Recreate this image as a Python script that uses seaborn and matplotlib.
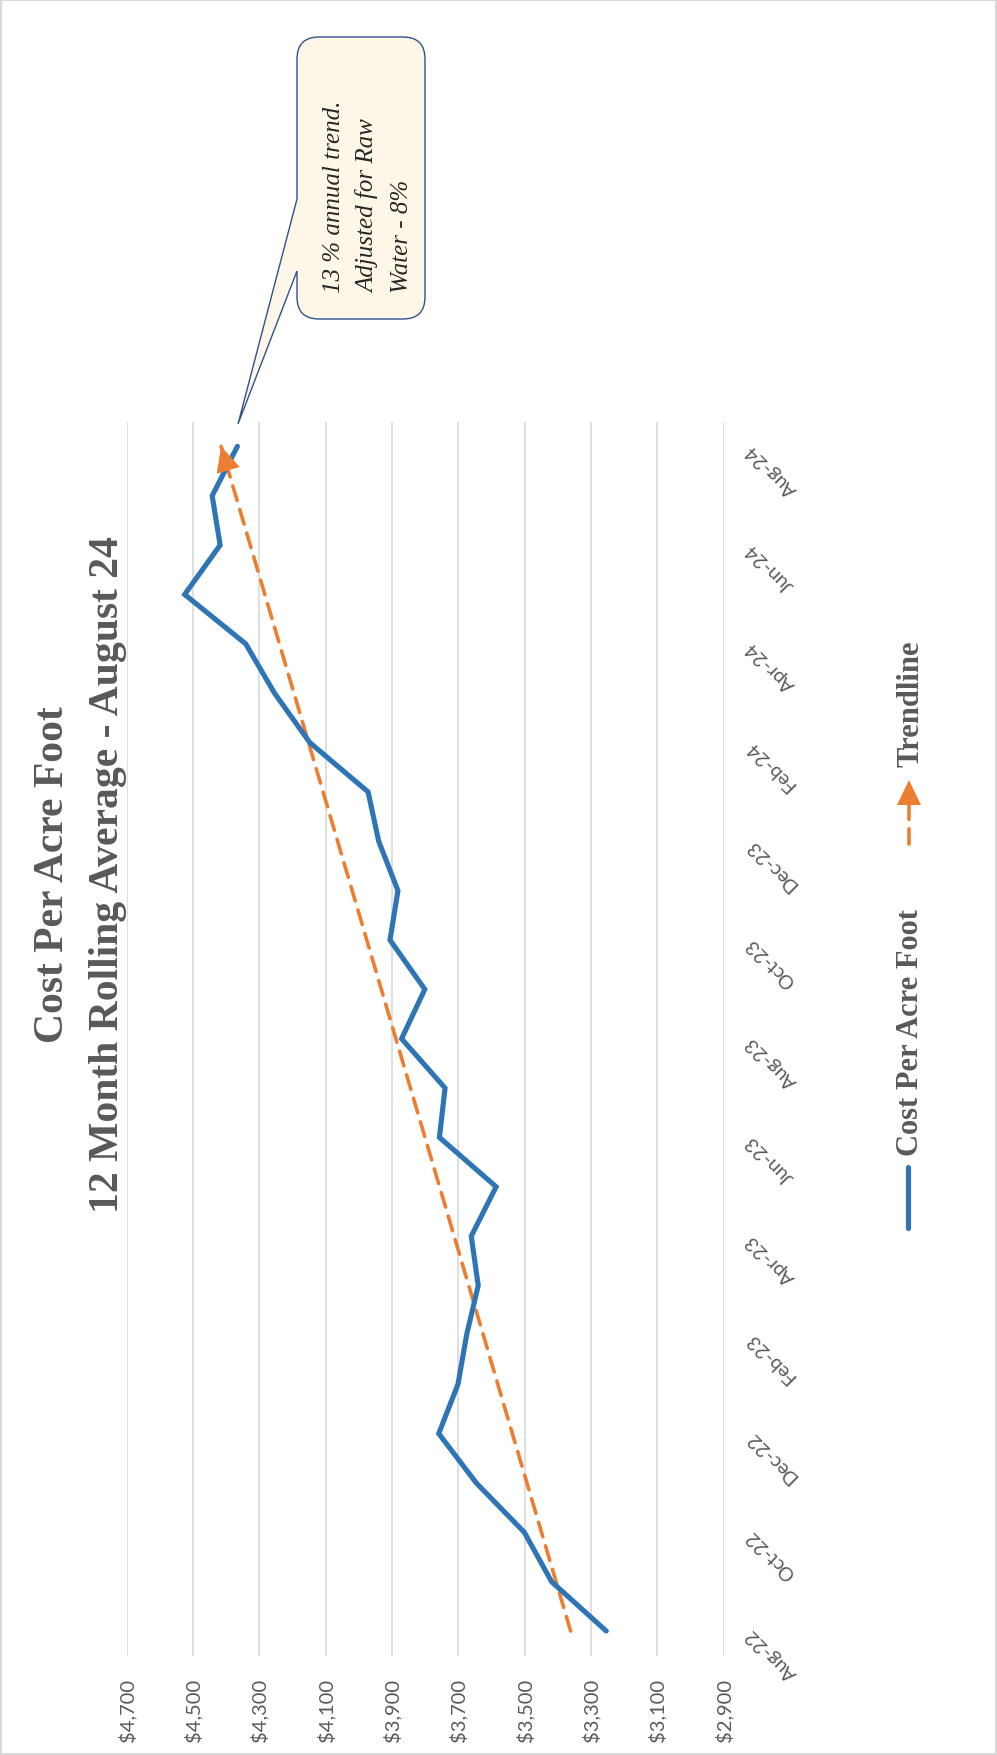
import numpy as np
import pandas as pd
import matplotlib
matplotlib.use("Agg")
import matplotlib.pyplot as plt
import seaborn as sns
from matplotlib.path import Path
from matplotlib.patches import PathPatch, Polygon, Rectangle
from matplotlib.lines import Line2D

# ---- data -------------------------------------------------------------
months = ["Aug-22", "Sep-22", "Oct-22", "Nov-22", "Dec-22", "Jan-23", "Feb-23",
          "Mar-23", "Apr-23", "May-23", "Jun-23", "Jul-23", "Aug-23", "Sep-23",
          "Oct-23", "Nov-23", "Dec-23", "Jan-24", "Feb-24", "Mar-24", "Apr-24",
          "May-24", "Jun-24", "Jul-24", "Aug-24"]
cost_per_acre_foot = [3254, 3419, 3501, 3646, 3759, 3701, 3675, 3640, 3661,
                      3586, 3757, 3740, 3871, 3801, 3906, 3882, 3940, 3972,
                      4148, 4254, 4341, 4525, 4418, 4442, 4366]
cost_ticks = [4700, 4500, 4300, 4100, 3900, 3700, 3500, 3300, 3100, 2900]
title_lines = ["Cost Per Acre Foot", "12 Month Rolling Average - August 24"]
note_lines = ["13 % annual trend.", "Adjusted for Raw", "Water - 8%"]
series_names = ["Cost Per Acre Foot", "Trendline"]

BLUE = "#2E75B6"
ORANGE = "#ED7D31"
GRAY_TEXT = "#595959"
GRID = "#D9D9D9"

sns.set_theme(style="white")
plt.rcParams["font.family"] = ["Liberation Serif", "DejaVu Serif"]

W, H = 997, 1756
fig = plt.figure(figsize=(W / 100, H / 100), dpi=100)
fig.patch.set_facecolor("white")


def fx(px):
    return px / W


def fy(py):
    return 1 - py / H


# plot area (chart is laid out sideways: cost runs right-to-left, months bottom-to-top)
left, right, top, bottom = 126.6, 723.7, 422.7, 1656.7
ax = fig.add_axes([fx(left), fy(bottom), (right - left) / W, (bottom - top) / H])

idx = np.arange(len(months))
df = pd.DataFrame({"month": months, "idx": idx, "cost": cost_per_acre_foot})
slope, intercept = np.polyfit(df["idx"], df["cost"], 1)
df["trend"] = intercept + slope * df["idx"]

sns.lineplot(data=df, x="trend", y="idx", orient="y", sort=False, estimator=None,
             color=ORANGE, lw=2.6, linestyle=(0, (4.2, 2.6)),
             dash_capstyle="round", ax=ax)
sns.lineplot(data=df, x="cost", y="idx", orient="y", sort=False, estimator=None,
             color=BLUE, lw=3.7, solid_capstyle="round", solid_joinstyle="miter",
             ax=ax)

ax.set_xlim(4700, 2900)
ax.set_ylim(-0.5, len(months) - 0.5)
ax.set_xlabel("")
ax.set_ylabel("")
for s in ax.spines.values():
    s.set_visible(False)
ax.set_facecolor("white")

ax.set_xticks(cost_ticks)
ax.set_xticklabels([f"${v:,}" for v in cost_ticks], rotation=90,
                   family=["Lato", "DejaVu Sans"], fontsize=14.5, color=GRAY_TEXT)
ax.tick_params(axis="x", length=0, pad=16)
ax.grid(axis="x", color=GRID, lw=1.2)
ax.grid(axis="y", visible=False)

ax.yaxis.tick_right()
ax.set_yticks(idx[::2])
ax.set_yticklabels(months[::2], family=["Lato", "DejaVu Sans"], fontsize=14,
                   color=GRAY_TEXT)
ax.tick_params(axis="y", length=0, pad=18)
for lbl in ax.get_yticklabels():
    lbl.set_rotation(135)
    lbl.set_rotation_mode("anchor")
    lbl.set_ha("right")
    lbl.set_va("center")

# arrow head at the end of the trendline
fig.canvas.draw()
to_fig = fig.transFigure.inverted()
p_end = ax.transData.transform((df["trend"].iloc[-1], idx[-1]))
p_prev = ax.transData.transform((df["trend"].iloc[-2], idx[-2]))
d = (p_end - p_prev) / np.hypot(*(p_end - p_prev))
n = np.array([-d[1], d[0]])
head_len, head_half = 25.0, 12.0
base = p_end - d * head_len
tri = np.array([p_end, base + n * head_half, base - n * head_half])
fig.add_artist(Polygon(to_fig.transform(tri), closed=True, transform=fig.transFigure,
                       facecolor=ORANGE, edgecolor="none", zorder=5))

# ---- titles -----------------------------------------------------------
fig.text(fx(63), fy(875), title_lines[0], rotation=90, rotation_mode="anchor",
         ha="center", va="baseline", fontsize=30, fontweight="bold", color=GRAY_TEXT)
fig.text(fx(118), fy(875), title_lines[1], rotation=90, rotation_mode="anchor",
         ha="center", va="baseline", fontsize=30, fontweight="bold", color=GRAY_TEXT)

# ---- legend -----------------------------------------------------------
fig.add_artist(Line2D([fx(908), fx(908)], [fy(1229), fy(1168)], transform=fig.transFigure,
                      color=BLUE, lw=3.7, solid_capstyle="round"))
fig.text(fx(918), fy(1156), series_names[0], rotation=90, rotation_mode="anchor",
         ha="left", va="baseline", fontsize=22, fontweight="bold", color=GRAY_TEXT)
fig.add_artist(Line2D([fx(909), fx(909)], [fy(845), fy(806)], transform=fig.transFigure,
                      color=ORANGE, lw=2.6, linestyle=(0, (4.2, 2.6)),
                      dash_capstyle="round"))
fig.add_artist(Polygon([[fx(897), fy(806)], [fx(921), fy(806)], [fx(909), fy(781)]],
                       closed=True, transform=fig.transFigure, facecolor=ORANGE,
                       edgecolor="none"))
fig.text(fx(918), fy(767), series_names[1], rotation=90, rotation_mode="anchor",
         ha="left", va="baseline", fontsize=22, fontweight="bold", color=GRAY_TEXT)

# ---- callout ------------------------------------------------------------
x0, x1, y0, y1, r = 297, 425, 38, 320, 22
wedge_a, wedge_b, tip = 200, 272, (238, 425)
M, L, C = Path.MOVETO, Path.LINETO, Path.CURVE3
pts = [
    ((x0 + r, y0), M), ((x1 - r, y0), L), ((x1, y0), C), ((x1, y0 + r), C),
    ((x1, y1 - r), L), ((x1, y1), C), ((x1 - r, y1), C),
    ((x0 + r, y1), L), ((x0, y1), C), ((x0, y1 - r), C),
    ((x0, wedge_b), L), (tip, L), ((x0, wedge_a), L),
    ((x0, y0 + r), L), ((x0, y0), C), ((x0 + r, y0), C),
]
verts = [(fx(p[0]), fy(p[1])) for p, _ in pts]
codes = [c for _, c in pts]
fig.add_artist(PathPatch(Path(verts, codes), transform=fig.transFigure,
                         facecolor="#FEF6E7", edgecolor="#2F528F", lw=1.0, zorder=6))
for bx, line in zip([340, 374, 408], note_lines):
    fig.text(fx(bx), fy(293), line, rotation=90, rotation_mode="anchor",
             ha="left", va="baseline", fontsize=18, style="italic",
             color="#262626", zorder=7)

# chart border
fig.add_artist(Rectangle((0.001, 0.0006), 0.998, 0.9988, transform=fig.transFigure,
                         fill=False, edgecolor=GRID, lw=1.5))

fig.savefig("out.png", dpi=100)
